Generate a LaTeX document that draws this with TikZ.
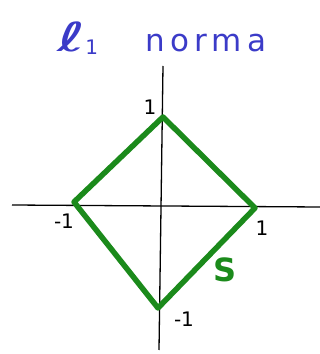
\documentclass[tikz,border=0pt]{standalone}
\usepackage{fontspec}
\setmainfont{DejaVu Sans}
\usepackage{tikz}
\usetikzlibrary{positioning}
\definecolor{NormBlue}{HTML}{3B3BC8}
\definecolor{NormGreen}{HTML}{1B8A1B}
\tikzset{
  axis/.style={line width=1.3pt,color=black},
  ball/.style={line width=5.5pt,color=NormGreen,line join=round,line cap=round},
  ticklabel/.style={font=\fontsize{20}{22}\selectfont,inner sep=0pt},
  title/.style={font=\fontsize{31}{34}\selectfont,color=NormBlue,inner sep=0pt,anchor=base west},
}

\begin{document}
\begin{tikzpicture}[x=1pt,y=1pt]
  \useasboundingbox (0,0) rectangle (320,354);

  % Title
  \node[title] (ell) at (57,302) {\scalebox{1.7}[1]{\fontsize{40}{40}\selectfont ℓ}\raisebox{-3pt}{\fontsize{20}{20}\selectfont 1}};
  \node[title] (norm) at (145,302) {\addfontfeature{LetterSpace=17}norma};

  % Axes
  \coordinate (xl) at (12,149);
  \coordinate (xr) at (320,147);
  \coordinate (yt) at (163,288);
  \coordinate (yb) at (159,4);
  \draw[axis] (xl) -- (xr);
  \draw[axis] (yt) -- (yb);

  % Unit ball vertices
  \coordinate (top) at (163,237);
  \coordinate (right) at (255,146);
  \coordinate (bottom) at (158,46);
  \coordinate (left) at (74,152);
  \draw[ball] (top) -- (right) -- (bottom) -- (left) -- cycle;

  % Tick labels
  \node[ticklabel, xshift=-13pt, yshift=10pt] (ltop) at (top) {1};
  \node[ticklabel, xshift=-10pt, yshift=-19pt] (lleft) at (left) {-1};
  \node[ticklabel, xshift=7pt, yshift=-20pt] (lright) at (right) {1};
  \node[ticklabel, xshift=26pt, yshift=-11pt] (lbottom) at (bottom) {-1};

  % Set label
  \node[font=\fontsize{32}{34}\selectfont\bfseries, color=NormGreen] (S) at (225,84) {S};
\end{tikzpicture}
\end{document}
